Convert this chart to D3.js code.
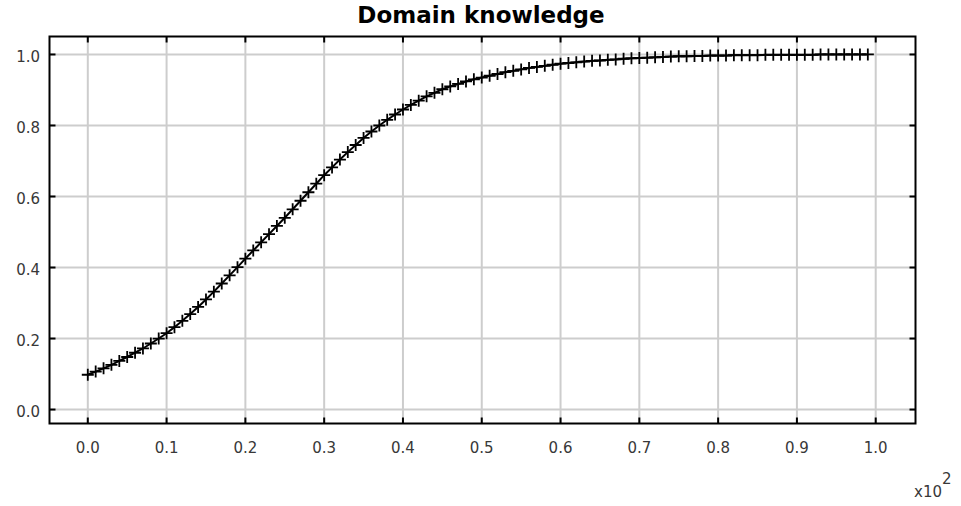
<!DOCTYPE html>
<html>
<head>
<meta charset="utf-8">
<script src="https://cdn.jsdelivr.net/npm/d3@7"></script>
<style>
  body { margin: 0; background: #fff; }
  svg { display: block; }
  text { font-family: "DejaVu Sans", sans-serif; }
</style>
</head>
<body>
<div id="chart"></div>
<script>
// values, one per point (x = point index 0..99)
const knowledge = [
  0.098, 0.107, 0.116, 0.126, 0.137, 0.148, 0.160, 0.172, 0.186, 0.200,
  0.215, 0.232, 0.250, 0.269, 0.289, 0.310, 0.332, 0.355, 0.378, 0.401,
  0.425, 0.448, 0.471, 0.494, 0.517, 0.540, 0.564, 0.588, 0.612, 0.636,
  0.660, 0.682, 0.704, 0.725, 0.745, 0.765, 0.783, 0.800, 0.816, 0.831,
  0.845, 0.858, 0.870, 0.882, 0.892, 0.902, 0.910, 0.917, 0.924, 0.930,
  0.935, 0.940, 0.945, 0.950, 0.954, 0.958, 0.962, 0.965, 0.968, 0.971,
  0.974, 0.976, 0.978, 0.980, 0.982, 0.983, 0.985, 0.986, 0.988, 0.989,
  0.990, 0.991, 0.992, 0.993, 0.994, 0.995, 0.995, 0.996, 0.996, 0.997,
  0.997, 0.997, 0.998, 0.998, 0.998, 0.998, 0.999, 0.999, 0.999, 0.999,
  0.999, 0.999, 0.999, 1.000, 1.000, 1.000, 1.000, 1.000, 1.000, 1.000
];

// x ticks are shown in units of 10^2
const xTicks = [0, 10, 20, 30, 40, 50, 60, 70, 80, 90, 100];
const xTickLabels = ["0.0", "0.1", "0.2", "0.3", "0.4", "0.5", "0.6", "0.7", "0.8", "0.9", "1.0"];
const yTicks = [0, 0.2, 0.4, 0.6, 0.8, 1.0];
const yTickLabels = ["0.0", "0.2", "0.4", "0.6", "0.8", "1.0"];

const title = "Domain knowledge";

const width = 961, height = 506;
const plot = { left: 49.5, right: 915.5, top: 36.5, bottom: 423.5 };

const x = d3.scaleLinear().domain([-4.86, 105.05]).range([plot.left, plot.right]);
const y = d3.scaleLinear().domain([-0.0393, 1.0506]).range([plot.bottom, plot.top]);

const svg = d3.select("#chart").append("svg")
  .attr("width", width)
  .attr("height", height);

// grid
svg.append("g").selectAll("line")
  .data(xTicks)
  .join("line")
  .attr("x1", d => x(d)).attr("x2", d => x(d))
  .attr("y1", plot.top).attr("y2", plot.bottom)
  .attr("stroke", "#cdcdcd").attr("stroke-width", 2);

svg.append("g").selectAll("line")
  .data(yTicks)
  .join("line")
  .attr("x1", plot.left).attr("x2", plot.right)
  .attr("y1", d => y(d)).attr("y2", d => y(d))
  .attr("stroke", "#cdcdcd").attr("stroke-width", 2);

// frame
svg.append("rect")
  .attr("x", plot.left).attr("y", plot.top)
  .attr("width", plot.right - plot.left)
  .attr("height", plot.bottom - plot.top)
  .attr("fill", "none")
  .attr("stroke", "#000").attr("stroke-width", 2);

// inward ticks on every side
const tickLen = 6;
const ticks = svg.append("g").attr("stroke", "#000").attr("stroke-width", 2);
xTicks.forEach(d => {
  ticks.append("line").attr("x1", x(d)).attr("x2", x(d))
    .attr("y1", plot.bottom).attr("y2", plot.bottom - tickLen);
  ticks.append("line").attr("x1", x(d)).attr("x2", x(d))
    .attr("y1", plot.top).attr("y2", plot.top + tickLen);
});
yTicks.forEach(d => {
  ticks.append("line").attr("y1", y(d)).attr("y2", y(d))
    .attr("x1", plot.left).attr("x2", plot.left + tickLen);
  ticks.append("line").attr("y1", y(d)).attr("y2", y(d))
    .attr("x1", plot.right).attr("x2", plot.right - tickLen);
});

// tick labels
svg.append("g").selectAll("text")
  .data(xTicks)
  .join("text")
  .attr("x", d => x(d))
  .attr("y", 453)
  .attr("text-anchor", "middle")
  .attr("font-size", 15)
  .attr("fill", "#383838")
  .text((d, i) => xTickLabels[i]);

svg.append("g").selectAll("text")
  .data(yTicks)
  .join("text")
  .attr("x", 40)
  .attr("y", d => y(d) + 2)
  .attr("dy", "0.35em")
  .attr("text-anchor", "end")
  .attr("font-size", 15)
  .attr("fill", "#383838")
  .text((d, i) => yTickLabels[i]);

// x10^2 multiplier
const mult = svg.append("text")
  .attr("x", 914).attr("y", 497)
  .attr("font-size", 15)
  .attr("fill", "#383838");
mult.append("tspan").text("x10");
mult.append("tspan").attr("dy", -13).text("2");

// title
svg.append("text")
  .attr("x", 481).attr("y", 23)
  .attr("text-anchor", "middle")
  .attr("font-size", 23)
  .attr("font-weight", "bold")
  .attr("fill", "#000")
  .text(title);

// curve
const line = d3.line()
  .x((d, i) => x(i))
  .y(d => y(d));

svg.append("path")
  .datum(knowledge)
  .attr("d", line)
  .attr("fill", "none")
  .attr("stroke", "#000")
  .attr("stroke-width", 2);

// plus markers
const arm = 6;
svg.append("g").selectAll("path")
  .data(knowledge)
  .join("path")
  .attr("d", (d, i) => {
    const cx = x(i), cy = y(d);
    return "M" + (cx - arm) + "," + cy + "H" + (cx + arm) + "M" + cx + "," + (cy - arm) + "V" + (cy + arm);
  })
  .attr("stroke", "#000")
  .attr("stroke-width", 1.8)
  .attr("fill", "none");
</script>
</body>
</html>
